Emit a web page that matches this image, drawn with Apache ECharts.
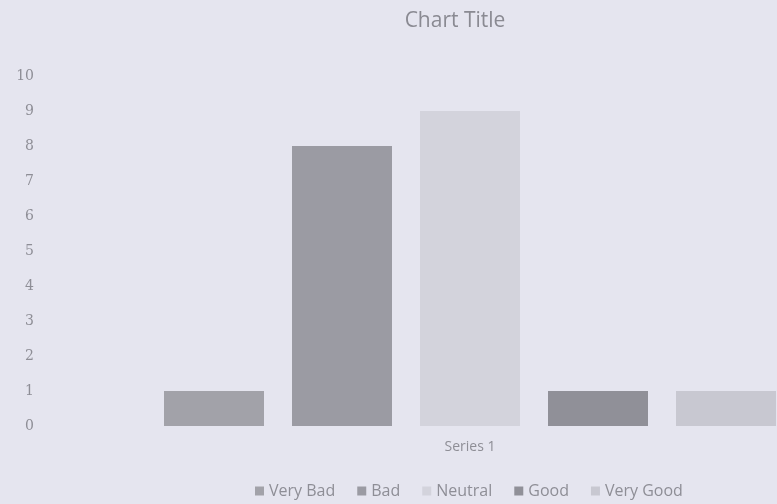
<!DOCTYPE html>
<html>
<head>
<meta charset="utf-8">
<script src="https://cdn.jsdelivr.net/npm/echarts@6/dist/echarts.min.js"></script>
<style>
  html, body { margin: 0; padding: 0; background: #e5e5ef; }
  #main { width: 777px; height: 504px; }
</style>
</head>
<body>
<div id="main"></div>
<script>
// data
var categories = ['Series 1'];
var seriesNames = ['Very Bad', 'Bad', 'Neutral', 'Good', 'Very Good'];
var veryBad = [1];
var bad = [8];
var neutral = [9];
var good = [1];
var veryGood = [1];
var yTicks = [0, 1, 2, 3, 4, 5, 6, 7, 8, 9, 10];

var values = [veryBad, bad, neutral, good, veryGood];
var colors = ['#a2a2a9', '#9b9ba3', '#d3d3dc', '#909098', '#c8c8d1'];

var chart = echarts.init(document.getElementById('main'));
var series = [];
for (var i = 0; i < seriesNames.length; i++) {
  series.push({
    name: seriesNames[i],
    type: 'bar',
    data: values[i],
    barWidth: 100,
    barGap: '28%',
    itemStyle: { color: colors[i] }
  });
}

var option = {
  backgroundColor: '#e5e5ef',
  title: {
    text: 'Chart Title',
    left: 450,
    top: 6,
    textAlign: 'center',
    textStyle: { fontFamily: 'Open Sans', fontWeight: 'normal', fontSize: 21, color: '#8a8a92' }
  },
  legend: {
    top: 478,
    left: 250,
    itemWidth: 9,
    itemHeight: 9,
    itemGap: 22,
    icon: 'rect',
    textStyle: { fontFamily: 'Open Sans', fontSize: 16, color: '#8e8e96' },
    data: seriesNames
  },
  grid: { left: 48, width: 844, top: 76, bottom: 78, outerBoundsMode: 'none' },
  xAxis: {
    type: 'category',
    data: categories,
    axisLine: { show: false },
    axisTick: { show: false },
    axisLabel: { fontFamily: 'Open Sans', fontSize: 14, color: '#8e8e96', margin: 14 }
  },
  yAxis: {
    type: 'value',
    min: yTicks[0],
    max: yTicks[yTicks.length - 1],
    interval: 1,
    splitLine: { show: false },
    axisLine: { show: false },
    axisTick: { show: false },
    axisLabel: { fontFamily: 'DejaVu Serif', fontSize: 14, color: '#8e8e96', margin: 14 }
  },
  series: series
};
chart.setOption(option);
</script>
</body>
</html>
